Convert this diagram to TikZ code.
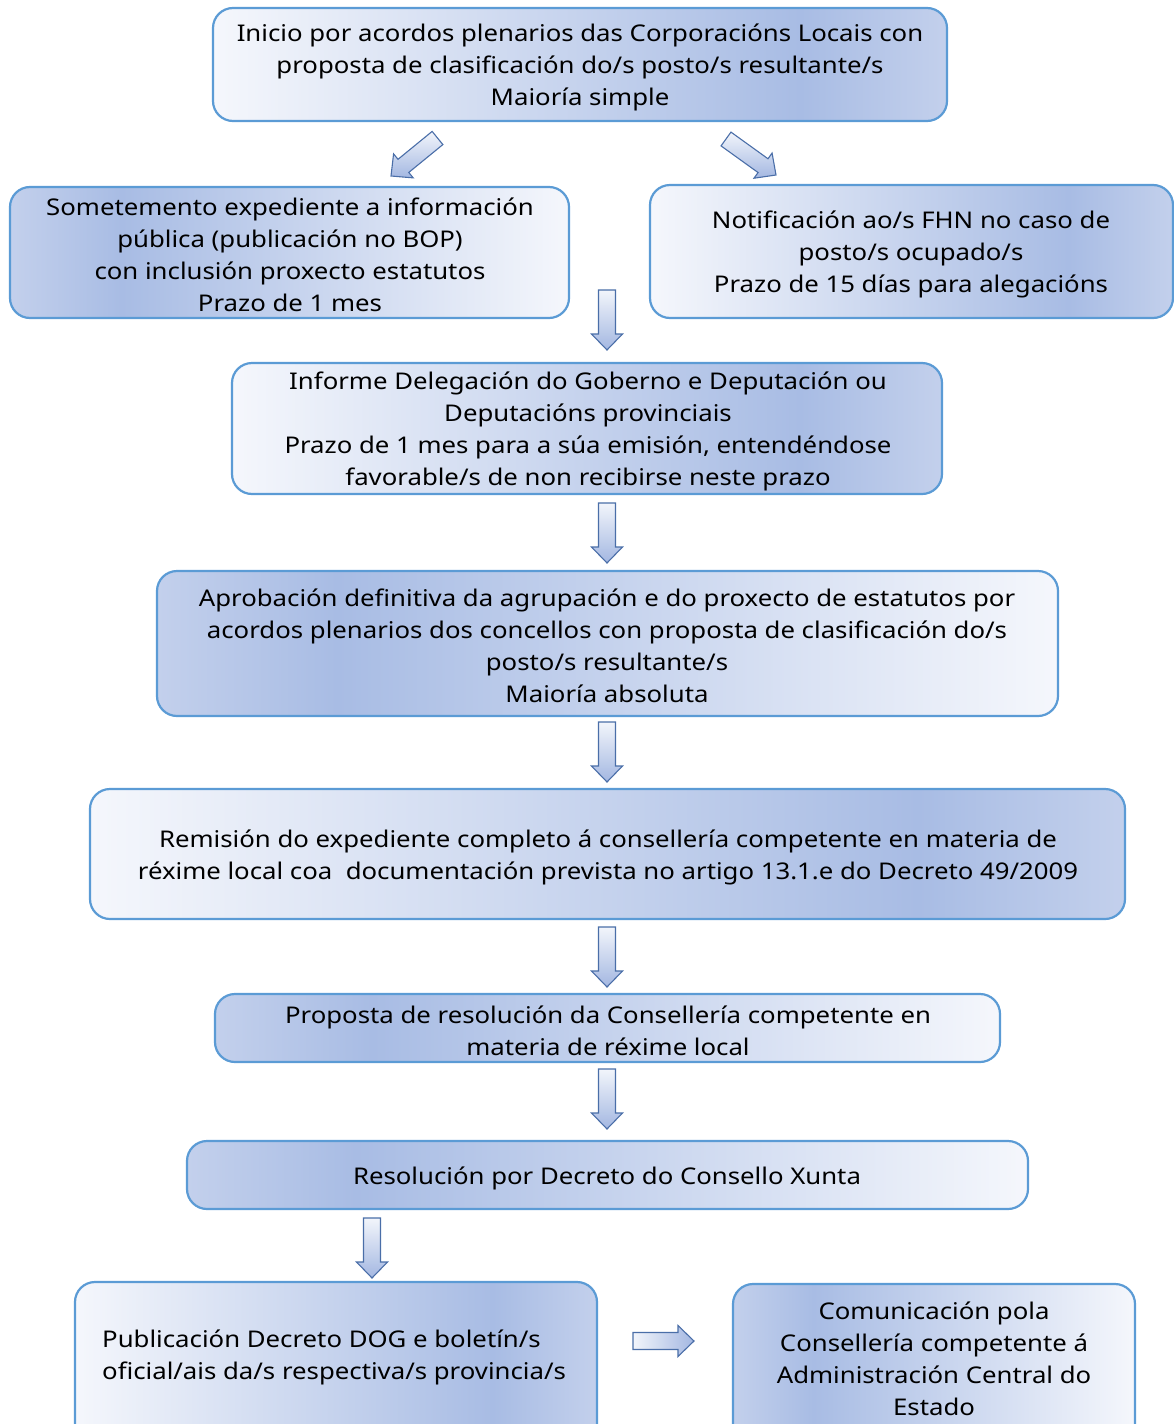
\documentclass[tikz,border=0pt]{standalone}
\usepackage{fontspec}
\setmainfont[FakeStretch=1.12]{Noto Sans}
\usetikzlibrary{calc}
\definecolor{bL}{HTML}{F5F7FC}
\definecolor{bD}{HTML}{A8BCE4}
\definecolor{bE}{HTML}{C3D0EC}
\definecolor{bB}{HTML}{5B9BD5}
\definecolor{aB}{HTML}{4A6EA8}
\definecolor{aL}{HTML}{F2F5FB}
\definecolor{aD}{HTML}{A3B7E1}
\pgfdeclarehorizontalshading{gradR}{100bp}{color(0bp)=(bL); color(25bp)=(bL); color(65bp)=(bD); color(75bp)=(bE); color(100bp)=(bE)}
\pgfdeclarehorizontalshading{gradL}{100bp}{color(0bp)=(bE); color(25bp)=(bE); color(35bp)=(bD); color(75bp)=(bL); color(100bp)=(bL)}
\tikzset{
  boxbase/.style={draw=bB, line width=2.2pt, rounded corners=20pt, inner sep=0pt, shade},
  boxR/.style={boxbase, shading=gradR},
  boxL/.style={boxbase, shading=gradL},
  txt/.style={align=center, inner sep=0pt, font=\fontsize{23}{32}\selectfont},
  arrstyle/.style={draw=aB, line width=1.1pt, line join=miter},
}
\newcommand\barr[3][]{%
  \coordinate (T) at (#2); \coordinate (P) at (#3);
  \coordinate (H) at ($(P)!16pt!(T)$);
  \shade[arrstyle,#1] ($(T)!8.5pt!90:(P)$) -- ($(H)!8.5pt!-90:(T)$) -- ($(H)!15.5pt!-90:(T)$) -- (P) -- ($(H)!15.5pt!90:(T)$) -- ($(H)!8.5pt!90:(T)$) -- ($(T)!8.5pt!-90:(P)$) -- cycle;}
\begin{document}
\begin{tikzpicture}[x=1pt,y=-1pt]
\useasboundingbox (0,0) rectangle (1174,1424);
\clip (0,0) rectangle (1174,1424);
% boxes
\node[boxR, minimum width=734pt, minimum height=113pt] (b1) at (580,64.5) {};
\node[boxL, minimum width=559pt, minimum height=131pt] (b2) at (289.5,252.5) {};
\node[boxR, minimum width=523pt, minimum height=133pt] (b3) at (911.5,251.5) {};
\node[boxR, minimum width=710pt, minimum height=131pt] (b4) at (587,428.5) {};
\node[boxL, minimum width=901pt, minimum height=145pt] (b5) at (607.5,643.5) {};
\node[boxR, minimum width=1035pt, minimum height=130pt] (b6) at (607.5,854) {};
\node[boxL, minimum width=785pt, minimum height=68pt] (b7) at (607.5,1028) {};
\node[boxL, minimum width=841pt, minimum height=68pt] (b8) at (607.5,1175) {};
\node[boxR, minimum width=522pt, minimum height=170pt] (b9) at (336,1367) {};
\node[boxL, minimum width=402pt, minimum height=170pt] (b10) at (934,1369) {};
% texts
\node[txt] (t1) at (580,67) {Inicio por acordos plenarios das Corporacións Locais con\\proposta de clasificación do/s posto/s resultante/s\\Maioría simple};
\node[txt] (t2) at (290,255) {Sometemento expediente a información\\pública (publicación no BOP)\\con inclusión proxecto estatutos\\Prazo de 1 mes};
\node[txt] (t3) at (911,254) {Notificación ao/s FHN no caso de\\posto/s ocupado/s\\Prazo de 15 días para alegacións};
\node[txt] (t4) at (588,431.5) {Informe Delegación do Goberno e Deputación ou\\Deputacións provinciais\\Prazo de 1 mes para a súa emisión, entendéndose\\favorable/s de non recibirse neste prazo};
\node[txt] (t5) at (607,646) {Aprobación definitiva da agrupación e do proxecto de estatutos por\\acordos plenarios dos concellos con proposta de clasificación do/s\\posto/s resultante/s\\Maioría absoluta};
\node[txt] (t6) at (608,857) {Remisión do expediente completo á consellería competente en materia de\\réxime local coa\ \ documentación prevista no artigo 13.1.e do Decreto 49/2009};
\node[txt] (t7) at (608,1031) {Proposta de resolución da Consellería competente en\\materia de réxime local};
\node[txt] (t8) at (607,1178) {Resolución por Decreto do Consello Xunta};
\node[txt, align=left, anchor=west] (t9) at (102,1357) {Publicación Decreto DOG e boletín/s\\oficial/ais da/s respectiva/s provincia/s};
\node[txt] (t10) at (934,1359) {Comunicación pola\\Consellería competente á\\Administración Central do\\Estado};
% arrows
\barr[top color=aL,bottom color=aD]{437.5,138}{391,176}
\barr[top color=aL,bottom color=aD]{726,139}{776,175}
\barr[top color=aL,bottom color=aD]{607,290}{607,350}
\barr[top color=aL,bottom color=aD]{607,503}{607,563}
\barr[top color=aL,bottom color=aD]{607,722}{607,782}
\barr[top color=aL,bottom color=aD]{607,927}{607,987}
\barr[top color=aL,bottom color=aD]{607,1069}{607,1129}
\barr[top color=aL,bottom color=aD]{372,1218}{372,1278}
\barr[left color=aL,right color=aD]{633,1341}{694,1341}
\end{tikzpicture}
\end{document}
